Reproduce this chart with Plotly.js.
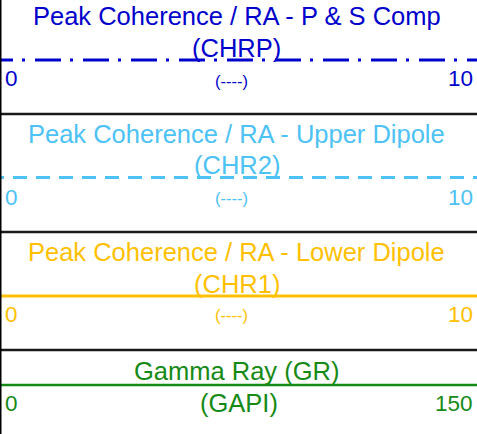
<!DOCTYPE html>
<html>
<head>
<meta charset="utf-8">
<script src="https://cdn.plot.ly/plotly-3.0.1.min.js"></script>
<style>
  html, body { margin: 0; padding: 0; background: #fff; }
  #chart { width: 477px; height: 434px; }
</style>
</head>
<body>
<div id="chart"></div>
<script>
// Track header data
const curveNames = ['Peak Coherence / RA - P & S Comp', 'Peak Coherence / RA - Upper Dipole', 'Peak Coherence / RA - Lower Dipole', 'Gamma Ray'];
const mnemonics = ['CHRP', 'CHR2', 'CHR1', 'GR'];
const units = ['----', '----', '----', 'GAPI'];
const scaleMin = [0, 0, 0, 0];
const scaleMax = [10, 10, 10, 150];

// Layout of the header (pixels from top)
const colors = ['#0000cc', '#4cc2f5', '#ffc000', '#168a16'];
const dashes = ['13px,9px,3px,10px,13px,0px', '4px,9px,10px,0px', 'solid', 'solid'];
const lineWidths = [3, 3, 3, 2.5];
const lineY = [60, 177.5, 296, 385];
const titleY = [[16, 47.5], [134, 165], [252, 283.5], [370.5]];
const scaleY = [78.7, 197.5, 314, 403.5];
const unitY = [81, 198, 315, 403];
const separators = [114, 232, 350];

const FONT = 'Liberation Sans, Arial, sans-serif';
const W = 477, H = 434;

const traces = [];
const annotations = [];
const layout = {
    width: W,
    height: H,
    margin: { l: 0, r: 0, t: 0, b: 0 },
    paper_bgcolor: '#fff',
    plot_bgcolor: '#fff',
    showlegend: false,
    yaxis: { range: [H, 0], visible: false, fixedrange: true }
};

mnemonics.forEach(function (mn, i) {
    const ax = i === 0 ? 'x' : 'x' + (i + 1);
    const axKey = i === 0 ? 'xaxis' : 'xaxis' + (i + 1);
    layout[axKey] = {
        range: [scaleMin[i], scaleMax[i]],
        visible: false,
        fixedrange: true,
        domain: [0, 1],
        anchor: 'y'
    };
    if (i > 0) layout[axKey].overlaying = 'x';

    traces.push({
        x: [scaleMin[i], scaleMax[i]],
        y: [lineY[i], lineY[i]],
        xaxis: ax,
        yaxis: 'y',
        mode: 'lines',
        hoverinfo: 'skip',
        line: { color: colors[i], width: lineWidths[i], dash: dashes[i] }
    });

    const isGR = mn === 'GR';
    const titleLines = isGR ? [curveNames[i] + ' (' + mn + ')'] : [curveNames[i], '(' + mn + ')'];
    titleLines.forEach(function (txt, k) {
        annotations.push({
            text: txt, xref: 'paper', yref: 'y', x: 0.5, y: titleY[i][k],
            xanchor: 'center', yanchor: 'middle', showarrow: false,
            xshift: -2,
            font: { family: FONT, size: 25.5, color: colors[i] }
        });
    });

    // scale ends
    annotations.push({
        text: String(scaleMin[i]), xref: 'paper', yref: 'y', x: 0, y: scaleY[i],
        xanchor: 'left', yanchor: 'middle', showarrow: false, xshift: 3,
        font: { family: FONT, size: 22.5, color: colors[i] }
    });
    annotations.push({
        text: String(scaleMax[i]), xref: 'paper', yref: 'y', x: 1, y: scaleY[i],
        xanchor: 'right', yanchor: 'middle', showarrow: false, xshift: -2,
        font: { family: FONT, size: 22.5, color: colors[i] }
    });
    // units
    annotations.push({
        text: '(' + units[i] + ')', xref: 'paper', yref: 'y', x: 0.5, y: unitY[i],
        xanchor: 'center', yanchor: 'middle', showarrow: false, xshift: isGR ? 0 : -7,
        font: { family: FONT, size: isGR ? 25.5 : 16.5, color: colors[i] }
    });
});

const shapes = separators.map(function (y) {
    return { type: 'line', xref: 'paper', yref: 'y', x0: 0, x1: 1, y0: y, y1: y,
             line: { color: '#1a1a1a', width: 2.5 } };
});
shapes.push({ type: 'line', xref: 'paper', yref: 'paper', x0: 0, x1: 0, y0: 0, y1: 1,
              line: { color: '#000', width: 3 } });

layout.annotations = annotations;
layout.shapes = shapes;

Plotly.newPlot('chart', traces, layout, { displayModeBar: false, staticPlot: true });
</script>
</body>
</html>
